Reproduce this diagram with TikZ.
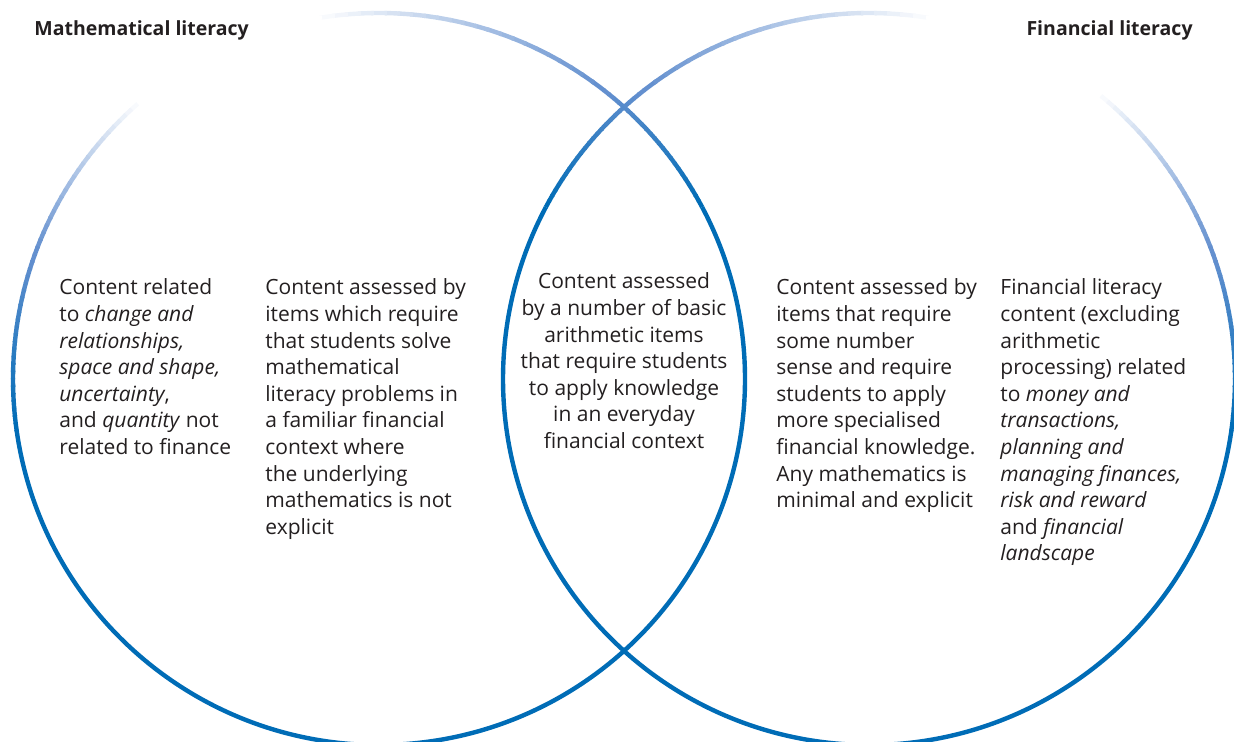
\documentclass[tikz,border=0pt]{standalone}
\usepackage{fontspec}
\setmainfont{Open Sans}

\definecolor{vennBlue}{RGB}{0,108,182}
\definecolor{vennLight}{RGB}{100,144,207}
\definecolor{vennInk}{RGB}{35,31,32}

\tikzset{
    ringLine/.style={line width=2.2pt},
    vennText/.style={inner sep=0pt, anchor=north west, align=left, text=vennInk,
        font=\fontsize{10.5}{13.3}\selectfont},
    vennTitle/.style={inner sep=0pt, text=vennInk, font=\fontsize{9.75}{12}\selectfont\bfseries},
}

\newcommand{\ringRad}{183pt}
% ring piece whose colour runs from #4 to #5
\newcommand{\fadeArc}[5]{%
    \foreach \k in {0,...,23}{
        \pgfmathsetmacro{\angA}{#2+(#3-#2)*\k/24}
        \pgfmathsetmacro{\angB}{#2+(#3-#2)*(\k+1.2)/24}
        \pgfmathsetmacro{\mixPc}{100-100*\k/23}
        \draw[ringLine, color=#4!\mixPc!#5] (#1) ++(\angA:\ringRad)
            arc[start angle=\angA, end angle=\angB, radius=\ringRad];
    }}

\begin{document}
\begin{tikzpicture}[x=0.5pt,y=0.5pt]
    \useasboundingbox (0,0) rectangle (1234,742);
    \coordinate (mathCentre) at (379,363);
    \coordinate (finCentre) at (869,363);

    % mathematical literacy ring
    \draw[ringLine, vennBlue] (mathCentre) ++(188:\ringRad)
        arc[start angle=188, end angle=388, radius=\ringRad];
    \fadeArc{mathCentre}{28}{52}{vennBlue}{vennLight}
    \fadeArc{mathCentre}{52}{101}{vennLight}{white}
    \fadeArc{mathCentre}{130}{160}{white}{vennLight}
    \fadeArc{mathCentre}{160}{188}{vennLight}{vennBlue}

    % financial literacy ring
    \draw[ringLine, vennBlue] (finCentre) ++(-8:\ringRad)
        arc[start angle=-8, end angle=-208, radius=\ringRad];
    \fadeArc{finCentre}{152}{128}{vennBlue}{vennLight}
    \fadeArc{finCentre}{128}{79}{vennLight}{white}
    \fadeArc{finCentre}{52}{20}{white}{vennLight}
    \fadeArc{finCentre}{20}{-8}{vennLight}{vennBlue}

    \node[vennTitle, anchor=base west] (mathTitle) at (34,706.5) {Mathematical literacy};
    \node[vennTitle, anchor=base east] (finTitle) at (1193,706.5) {Financial literacy};

    \node[vennText] (mathOnly) at (59,463.5) {Content related\\
        to \emph{change and}\\
        \emph{relationships,}\\
        \emph{space and shape,}\\
        \emph{uncertainty},\\
        and \emph{quantity} not\\
        related to finance};
    \node[vennText] (mathFin) at (265,463.5) {Content assessed by\\
        items which require\\
        that students solve\\
        mathematical\\
        literacy problems in\\
        a familiar financial\\
        context where\\
        the underlying\\
        mathematics is not\\
        explicit};
    \node[vennText, anchor=north, align=center] (overlap) at (624,469.5) {Content assessed\\
        by a number of basic\\
        arithmetic items\\
        that require students\\
        to apply knowledge\\
        in an everyday\\
        financial context};
    \node[vennText] (finMath) at (776,463.5) {Content assessed by\\
        items that require\\
        some number\\
        sense and require\\
        students to apply\\
        more specialised\\
        financial knowledge.\\
        Any mathematics is\\
        minimal and explicit};
    \node[vennText] (finOnly) at (1000,463.5) {Financial literacy\\
        content (excluding\\
        arithmetic\\
        processing) related\\
        to \emph{money and}\\
        \emph{transactions,}\\
        \emph{planning and}\\
        \emph{managing finances,}\\
        \emph{risk and reward}\\
        and \emph{financial}\\
        \emph{landscape}};
\end{tikzpicture}
\end{document}
